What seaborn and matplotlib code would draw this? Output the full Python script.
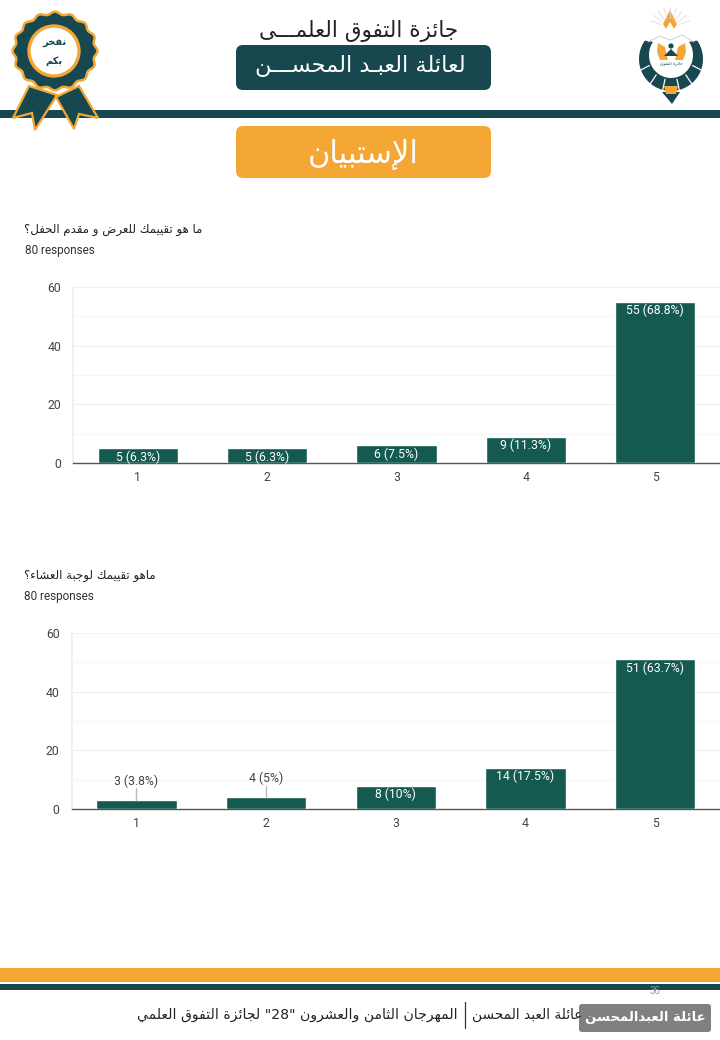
import re
import numpy as np
import pandas as pd
import seaborn as sns
import matplotlib.pyplot as plt
from matplotlib.patches import FancyBboxPatch, Polygon, Circle, Ellipse, Rectangle

DARK = '#17474f'
GREEN = '#155a50'
ORANGE = '#f4a734'

ratings = ['1', '2', '3', '4', '5']
show_counts = [5, 5, 6, 9, 55]
show_labels = ['5 (6.3%)', '5 (6.3%)', '6 (7.5%)', '9 (11.3%)', '55 (68.8%)']
dinner_counts = [3, 4, 8, 14, 51]
dinner_labels = ['3 (3.8%)', '4 (5%)', '8 (10%)', '14 (17.5%)', '51 (63.7%)']

show_question = 'ما هو تقييمك للعرض و مقدم الحفل؟'
dinner_question = 'ماهو تقييمك لوجبة العشاء؟'
responses = '80 responses'
award_title = 'جائزة التفوق العلمـــى'
family_title = 'لعائلة العبـد المحســـن'
survey_title = 'الإستبيان'
footer_left = 'المهرجان الثامن والعشرون "28" لجائزة التفوق العلمي'
footer_right = 'عائلة العبد المحسن'
footer_badge = 'عائلة العبدالمحسن'

# matplotlib does not shape arabic, so map letters to presentation forms
# letter: isolated, final, initial, medial (two forms = no joining to the left)
FORMS = {
    'ء': 'ﺀ', 'آ': 'ﺁﺂ', 'أ': 'ﺃﺄ', 'ؤ': 'ﺅﺆ', 'إ': 'ﺇﺈ', 'ئ': 'ﺉﺊﺋﺌ', 'ا': 'ﺍﺎ',
    'ب': 'ﺏﺐﺑﺒ', 'ة': 'ﺓﺔ', 'ت': 'ﺕﺖﺗﺘ', 'ث': 'ﺙﺚﺛﺜ', 'ج': 'ﺝﺞﺟﺠ', 'ح': 'ﺡﺢﺣﺤ',
    'خ': 'ﺥﺦﺧﺨ', 'د': 'ﺩﺪ', 'ذ': 'ﺫﺬ', 'ر': 'ﺭﺮ', 'ز': 'ﺯﺰ', 'س': 'ﺱﺲﺳﺴ', 'ش': 'ﺵﺶﺷﺸ',
    'ص': 'ﺹﺺﺻﺼ', 'ض': 'ﺽﺾﺿﻀ', 'ط': 'ﻁﻂﻃﻄ', 'ظ': 'ﻅﻆﻇﻈ', 'ع': 'ﻉﻊﻋﻌ', 'غ': 'ﻍﻎﻏﻐ',
    'ف': 'ﻑﻒﻓﻔ', 'ق': 'ﻕﻖﻗﻘ', 'ك': 'ﻙﻚﻛﻜ', 'ل': 'ﻝﻞﻟﻠ', 'م': 'ﻡﻢﻣﻤ', 'ن': 'ﻥﻦﻧﻨ',
    'ه': 'ﻩﻪﻫﻬ', 'و': 'ﻭﻮ', 'ى': 'ﻯﻰ', 'ي': 'ﻱﻲﻳﻴ', 'ـ': 'ــــ',
}
LAM_ALEF = {'ا': 'ﻻﻼ', 'أ': 'ﻷﻸ', 'إ': 'ﻹﻺ', 'آ': 'ﻵﻶ'}


def shape(text):
    out = []
    joins = False  # previous letter connects forward
    i = 0
    while i < len(text):
        ch = text[i]
        if ch not in FORMS:
            out.append(ch)
            joins = False
            i += 1
            continue
        if ch == 'ل' and i + 1 < len(text) and text[i + 1] in LAM_ALEF:
            out.append(LAM_ALEF[text[i + 1]][1 if joins else 0])
            joins = False
            i += 2
            continue
        forms = FORMS[ch]
        nxt = text[i + 1] if i + 1 < len(text) else ''
        can_next = len(forms) == 4 and nxt in FORMS
        if joins and can_next:
            out.append(forms[3])
        elif joins:
            out.append(forms[1] if len(forms) > 1 else forms[0])
        elif can_next:
            out.append(forms[2])
        else:
            out.append(forms[0])
        joins = can_next
        i += 1
    visual = ''.join(out)[::-1]
    return re.sub(r'\d+', lambda m: m.group(0)[::-1], visual)


sns.set_theme(style='white')
plt.rcParams['font.family'] = ['DejaVu Sans']

fig = plt.figure(figsize=(7.2, 10.4), dpi=100)

# whole page in pixel coordinates for the slide decoration
page = fig.add_axes([0, 0, 1, 1], zorder=0)
page.set_xlim(0, 720)
page.set_ylim(1040, 0)
page.axis('off')


def box(x0, y0, x1, y1, color, r=7):
    page.add_patch(FancyBboxPatch((x0 + r, y0 + r), x1 - x0 - 2 * r, y1 - y0 - 2 * r,
                                  boxstyle=f'round,pad={r},rounding_size={r}',
                                  fc=color, ec='none'))


def arabic(x, y, s, size, color='#222222', **kw):
    page.text(x, y, shape(s), fontsize=size, color=color, ha=kw.pop('ha', 'center'),
              va='center', family='DejaVu Sans', **kw)


# header and footer bands
page.add_patch(Rectangle((0, 110), 720, 8, fc=DARK, ec='none'))
page.add_patch(Rectangle((0, 968), 720, 14, fc=ORANGE, ec='none'))
page.add_patch(Rectangle((0, 984), 720, 6, fc=DARK, ec='none'))
box(236, 45, 491, 90, DARK)
box(236, 126, 491, 178, ORANGE)
arabic(359, 31, award_title, 15.5)
arabic(360, 66, family_title, 16.2, color='white')
arabic(363, 154, survey_title, 22, color='white')

# ribbon badge
page.add_patch(Polygon([[29, 86], [13, 118], [32, 113], [35, 130], [57, 95]], fc=DARK, ec=ORANGE, lw=1.6))
page.add_patch(Polygon([[79, 86], [98, 118], [79, 114], [74, 129], [56, 97]], fc=DARK, ec=ORANGE, lw=1.6))
theta = np.linspace(0, 2 * np.pi, 240)
scallop = 1 + 0.035 * np.cos(16 * theta)
page.add_patch(Polygon(np.c_[55 + 41 * scallop * np.cos(theta), 51 + 38 * scallop * np.sin(theta)],
                       fc=DARK, ec=ORANGE, lw=1.8))
page.add_patch(Ellipse((54, 51), 50, 50, fc='white', ec=ORANGE, lw=2.4))
arabic(54, 43, 'نفخر', 7.2, color=DARK, fontweight='bold')
arabic(54, 61, 'بكم', 7.2, color=DARK, fontweight='bold')

# logo
for ang in np.linspace(-70, 70, 9):
    a = np.radians(ang)
    page.plot([670 + 10 * np.sin(a), 670 + 21 * np.sin(a)], [28 - 10 * np.cos(a), 28 - 21 * np.cos(a)],
              color='#dddddd', lw=0.6)
page.add_patch(Polygon([[670, 10], [677, 24], [674, 29], [670, 22], [666, 29], [663, 24]], fc=ORANGE, ec='none'))
# crescent of calligraphy, open at the top
arc = np.radians(np.linspace(-35, 215, 60))
outer = np.c_[671 + 32 * np.cos(arc), 59 + 32 * np.sin(arc)]
inner = np.c_[671 + 22 * np.cos(arc[::-1]), 55 + 23 * np.sin(arc[::-1])]
page.add_patch(Polygon(np.r_[outer, inner], fc=DARK, ec='none'))
for ang in [20, 50, 75, 105, 130, 160]:
    a = np.radians(ang)
    page.plot([671 + 23 * np.cos(a), 671 + 32 * np.cos(a)], [58 + 22 * np.sin(a), 59 + 32 * np.sin(a)],
              color='white', lw=0.9)
page.plot([648, 660, 670, 682, 694], [42, 36, 40, 35, 42], color='#cfcfcf', lw=0.7)
page.add_patch(Polygon([[658, 43], [665, 47], [668, 60], [660, 60], [657, 52]], fc=ORANGE, ec='none'))
page.add_patch(Polygon([[685, 43], [678, 47], [675, 60], [683, 60], [686, 52]], fc=ORANGE, ec='none'))
page.add_patch(Circle((671, 46), 2.6, fc=DARK, ec='none'))
page.add_patch(Polygon([[671, 49], [678, 56], [664, 56]], fc=DARK, ec='none'))
page.text(671, 63, shape('جائزة التفوق'), fontsize=3.2, color=DARK, ha='center', va='center')
page.add_patch(Polygon([[662, 92], [680, 92], [672, 104]], fc=DARK, ec='none'))
page.add_patch(Polygon([[664, 86], [678, 86], [676, 94], [666, 94]], fc=ORANGE, ec='none'))

# questions
arabic(202, 229, show_question, 8.5, ha='right')
page.text(25, 250.5, responses, fontsize=8.5, color='#333333', va='center', family='Roboto')
arabic(156, 575, dinner_question, 8.5, ha='right')
page.text(24, 596.5, responses, fontsize=8.5, color='#333333', va='center', family='Roboto')

# footer
page.text(655, 991, '36', fontsize=7, color='#999999', ha='center', va='center', family='Liberation Sans')
arabic(458, 1015, footer_left, 10.1, ha='right')
page.plot([465, 465], [1002, 1028], color='#333333', lw=0.9)
arabic(582, 1015, footer_right, 9.9, ha='right')
box(579, 1004, 711, 1032, '#808080', r=3)
arabic(645, 1018, footer_badge, 9.5, color='white', fontweight='bold')


def survey_chart(left, top, counts, labels):
    ax = fig.add_axes([left / 720, 1 - (top + 176) / 1040, (720 - left) / 720, 176 / 1040], zorder=1)
    ax.patch.set_alpha(0)
    frame = pd.DataFrame({'rating': ratings, 'count': counts})
    sns.barplot(frame, x='rating', y='count', color=GREEN, saturation=1, width=0.62, ax=ax, zorder=3)
    ax.set_xlim(-0.5, 4.5)
    ax.set_ylim(0, 60)
    ax.set_yticks([0, 20, 40, 60])
    ax.set_yticks([10, 30, 50], minor=True)
    ax.grid(True, which='major', axis='y', color='#f0f0f0', lw=0.9)
    ax.grid(True, which='minor', axis='y', color='#f6f6f6', lw=0.9)
    ax.set_axisbelow(True)
    ax.set_xlabel('')
    ax.set_ylabel('')
    for side in ['top', 'right']:
        ax.spines[side].set_visible(False)
    ax.spines['left'].set_color('#f0f0f0')
    ax.spines['bottom'].set_color('#555555')
    ax.spines['bottom'].set_linewidth(1)
    ax.tick_params(axis='both', which='both', length=0, labelsize=8.8, labelcolor='#444444')
    ax.tick_params(axis='y', pad=8.5)
    ax.tick_params(axis='x', pad=5.5)
    for tick in ax.get_xticklabels() + ax.get_yticklabels():
        tick.set_family('Roboto')

    for i, (count, label) in enumerate(zip(counts, labels)):
        if count < 5:
            # small bars: label sits above on a leader line
            ax.plot([i, i], [count, count + 4], color='#bbbbbb', lw=1, zorder=4)
            ax.text(i, count + 4.2, label, ha='center', va='bottom', fontsize=8.8,
                    color='#444444', family='Roboto', zorder=5)
        else:
            ax.text(i, count - 2.9, label, ha='center', va='center', fontsize=8.8,
                    color='white', family='Roboto', zorder=5)
    return ax


survey_chart(73, 287, show_counts, show_labels)
survey_chart(71.5, 633, dinner_counts, dinner_labels)

fig.savefig('out.png', dpi=100)
